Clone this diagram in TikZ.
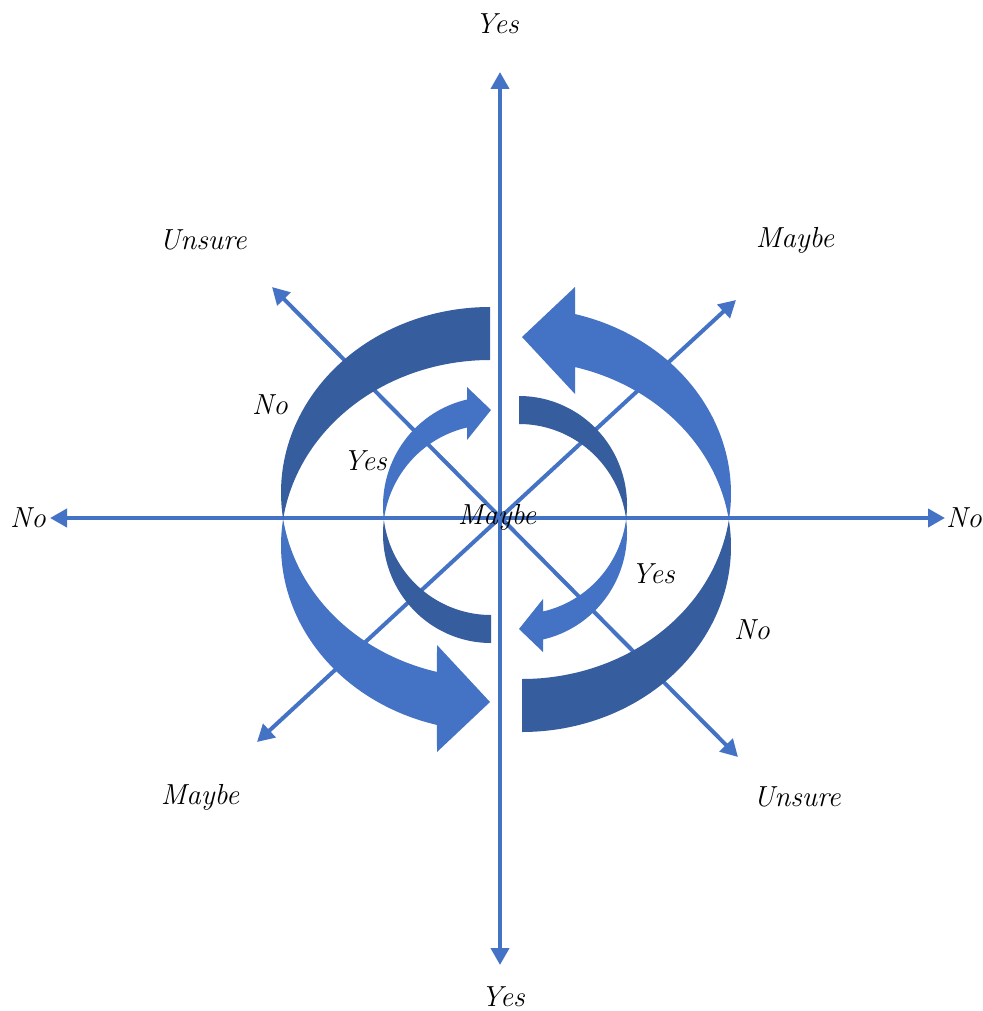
\documentclass[tikz,border=0pt]{standalone}
\usetikzlibrary{arrows.meta}
\definecolor{axisblue}{HTML}{4472C4}
\definecolor{darkblue}{HTML}{365D9E}
\newcommand{\myOuterArrow}{%
  % dark back band (upper left)
  \fill[darkblue]
    plot[domain=270:171.8,samples=80] ({490+209*cos(\x)},{492.5+185.5*sin(\x)})
    -- plot[domain=188.2:270,samples=80] ({490+209*cos(\x)},{545.5+185.5*sin(\x)})
    -- cycle;
  % light front band with head (lower left)
  \fill[axisblue]
    plot[domain=171.8:104.7,samples=80] ({490+209*cos(\x)},{492.5+185.5*sin(\x)})
    -- (437,645) -- (490,702) -- (437,752)
    -- plot[domain=104.7:188.2,samples=80] ({490+209*cos(\x)},{545.5+185.5*sin(\x)})
    -- cycle;
}
\newcommand{\myInnerArrow}{%
  % dark back band (lower left)
  \fill[darkblue]
    plot[domain=90:187.37,samples=80] ({491+108*cos(\x)},{533.9+109.1*sin(\x)})
    -- plot[domain=172.63:90,samples=80] ({491+108*cos(\x)},{505.9+109.1*sin(\x)})
    -- cycle;
  % light front band with head (upper left)
  \fill[axisblue]
    plot[domain=187.37:257.16,samples=80] ({491+108*cos(\x)},{533.9+109.1*sin(\x)})
    -- (467,440) -- (491,410) -- (467,387)
    -- plot[domain=257.16:172.63,samples=80] ({491+108*cos(\x)},{505.9+109.1*sin(\x)})
    -- cycle;
}
\begin{document}
\begin{tikzpicture}[x=1pt,y=-1pt,
  axis/.style={draw=axisblue, line width=4pt,
    {Triangle[length=17pt,width=18pt]}-{Triangle[length=17pt,width=18pt]}},
  lbl/.style={font=\fontsize{29}{34}\selectfont\itshape, text=black, inner sep=0pt}]
\useasboundingbox[fill=white] (0,0) rectangle (982,1011);

% axes
\coordinate (T) at (500,72);
\coordinate (B) at (500,965);
\coordinate (L) at (50,518);
\coordinate (R) at (945,518);
\coordinate (UL) at (272,287);
\coordinate (LR) at (738,757);
\coordinate (UR) at (736,300);
\coordinate (LL) at (257,742);
\draw[axis] (B) -- (T);
\draw[axis] (L) -- (R);
\draw[axis] (LR) -- (UL);
\draw[axis] (LL) -- (UR);

% curved arrows
\myOuterArrow
\begin{scope}[rotate around={180:(506,519.5)}]
  \myOuterArrow
\end{scope}
\myInnerArrow
\begin{scope}[rotate around={180:(505,519.5)}]
  \myInnerArrow
\end{scope}

% labels
\node[lbl] (yesT) at (497,24) {Yes};
\node[lbl] (yesB) at (503,997) {Yes};
\node[lbl] (noL) at (28,518) {No};
\node[lbl] (noR) at (964,518) {No};
\node[lbl] (unsureUL) at (203,240) {Unsure};
\node[lbl] (maybeUR) at (795,240) {Maybe};
\node[lbl] (maybeLL) at (200,797) {Maybe};
\node[lbl] (unsureLR) at (797,797) {Unsure};
\node[lbl] (noOL) at (270,405) {No};
\node[lbl] (yesIL) at (365,461) {Yes};
\node[lbl] (maybeC) at (497,517) {Maybe};
\node[lbl] (yesIR) at (653,574) {Yes};
\node[lbl] (noOR) at (752,630) {No};
\end{tikzpicture}
\end{document}
